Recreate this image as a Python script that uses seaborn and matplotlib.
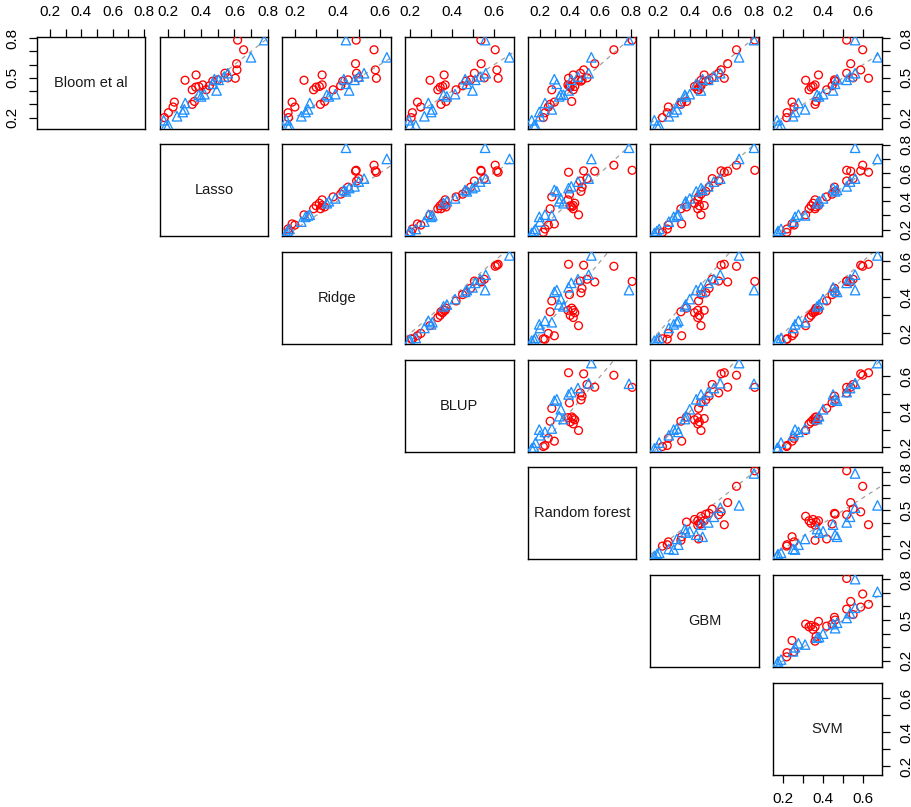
import numpy as np
import pandas as pd
import seaborn as sns
import matplotlib.pyplot as plt

sns.set_style("white")
plt.rcParams["font.family"] = ["Liberation Sans", "DejaVu Sans"]

methods = ["Bloom et al", "Lasso", "Ridge", "BLUP", "Random forest", "GBM", "SVM"]

# accuracy of each method, red group (circles)
bloom_red = [.785, .712, .607, .560, .497, .522, .482, .410, .430, .435, .447, .410, .475, .440, .485, .535, .500, .322, .300, .317, .280, .237, .200]
lasso_red = [.619, .655, .613, .615, .605, .370, .304, .347, .368, .386, .410, .431, .470, .450, .500, .543, .560, .360, .347, .240, .232, .204, .180]
ridge_red = [.488, .572, .485, .578, .583, .328, .243, .288, .300, .315, .328, .380, .425, .415, .450, .490, .500, .340, .320, .187, .200, .168, .170]
blup_red = [.537, .605, .538, .613, .619, .362, .295, .332, .343, .355, .367, .419, .467, .450, .488, .506, .553, .371, .347, .235, .251, .211, .205]
rf_red = [.810, .689, .562, .489, .389, .420, .455, .420, .400, .430, .385, .278, .471, .395, .478, .467, .511, .410, .267, .295, .255, .233, .222]
gbm_red = [.805, .691, .636, .595, .615, .490, .470, .450, .460, .430, .450, .455, .500, .470, .520, .580, .540, .380, .345, .350, .267, .260, .230]
svm_red = [.518, .598, .538, .588, .627, .377, .313, .330, .340, .350, .360, .418, .460, .445, .457, .518, .550, .365, .360, .245, .255, .220, .218]

# accuracy of each method, blue group (triangles)
bloom_blue = [.785, .655, .535, .510, .485, .405, .455, .490, .377, .360, .372, .310, .262, .242, .210, .180, .142, .142]
lasso_blue = [.778, .699, .560, .539, .505, .493, .470, .480, .420, .400, .386, .305, .300, .290, .256, .176, .190, .204]
ridge_blue = [.440, .632, .525, .500, .480, .455, .440, .430, .390, .360, .350, .270, .262, .250, .230, .160, .165, .175]
blup_blue = [.557, .673, .560, .533, .510, .497, .470, .462, .414, .375, .359, .287, .306, .300, .268, .195, .200, .227]
rf_blue = [.789, .540, .522, .451, .407, .389, .311, .295, .338, .327, .355, .233, .278, .195, .200, .145, .160, .170]
gbm_blue = [.800, .707, .590, .550, .515, .470, .440, .480, .400, .375, .370, .329, .320, .300, .270, .180, .196, .210]
svm_blue = [.560, .672, .560, .535, .518, .450, .460, .470, .400, .380, .370, .277, .310, .260, .250, .170, .175, .190]

red = pd.DataFrame(dict(zip(methods, [bloom_red, lasso_red, ridge_red, blup_red, rf_red, gbm_red, svm_red])))
blue = pd.DataFrame(dict(zip(methods, [bloom_blue, lasso_blue, ridge_blue, blup_blue, rf_blue, gbm_blue, svm_blue])))

# axis ticks and the labels that stay visible on each
ticks = {
    "Bloom et al": [.2, .3, .4, .5, .6, .7, .8],
    "Lasso": [.2, .3, .4, .5, .6, .7, .8],
    "Ridge": [.2, .3, .4, .5, .6],
    "BLUP": [.2, .3, .4, .5, .6],
    "Random forest": [.2, .3, .4, .5, .6, .7, .8],
    "GBM": [.2, .3, .4, .5, .6, .7, .8],
    "SVM": [.2, .3, .4, .5, .6],
}
horiz_labels = {
    "Bloom et al": [.2, .4, .6, .8], "Lasso": [.2, .4, .6, .8], "Ridge": [.2, .4, .6],
    "BLUP": [.2, .4, .6], "Random forest": [.2, .4, .6, .8], "GBM": [.2, .4, .6, .8],
    "SVM": [.2, .4, .6],
}
vert_labels = {
    "Bloom et al": [.2, .5, .8], "Lasso": [.2, .4, .6, .8], "Ridge": [.2, .4, .6],
    "BLUP": [.2, .4, .6], "Random forest": [.2, .5, .8], "GBM": [.2, .5, .8],
    "SVM": [.2, .4, .6],
}

both = pd.concat([red, blue])
lims = {}
for m in methods:
    lo, hi = both[m].min(), both[m].max()
    pad = 0.04 * (hi - lo)
    lims[m] = (lo - pad, hi + pad)


def fmt(vals, shown):
    return [f"{v:.1f}" if any(abs(v - s) < 1e-9 for s in shown) else "" for v in vals]


W, H = 912, 807
fig = plt.figure(figsize=(W / 100, H / 100), dpi=100)
x0, dx, pw = 37.0, 122.67, 108.5
y0, dy, ph = 36.7, 107.67, 92.0
tick_font = 11
n = len(methods)

for i in range(n):
    for j in range(i, n):
        left = (x0 + j * dx) / W
        bottom = 1 - (y0 + i * dy + ph) / H
        ax = fig.add_axes([left, bottom, pw / W, ph / H])
        xm, ym = methods[j], methods[i]
        ax.set_xlim(*lims[xm])
        ax.set_ylim(*lims[ym])
        for s in ax.spines.values():
            s.set_color("black")
            s.set_linewidth(1.0)
        if i == j:
            ax.text(0.5, 0.5, xm, transform=ax.transAxes, ha="center", va="center",
                    fontsize=10.5, color="#1a1a1a")
        else:
            ax.axline((0.3, 0.3), slope=1, color="#a0a0a0", lw=0.9, ls=(0, (3.5, 3.5)), zorder=1)
            sns.scatterplot(x=red[xm], y=red[ym], ax=ax, marker="o", s=32,
                            facecolor="none", edgecolor="#ff0000", linewidth=0.95,
                            legend=False, zorder=3)
            sns.scatterplot(x=blue[xm], y=blue[ym], ax=ax, marker="^", s=46,
                            facecolor="none", edgecolor="#1e90ff", linewidth=0.95,
                            legend=False, zorder=3)
        ax.set_xlabel("")
        ax.set_ylabel("")
        ax.set_xticks([])
        ax.set_yticks([])

        # x axis: top on the first row, bottom on the last one
        if i == 0 or i == n - 1:
            ax.set_xticks(ticks[xm])
            ax.set_xticklabels(fmt(ticks[xm], horiz_labels[xm]))
            if i == 0:
                ax.xaxis.set_ticks_position("top")
                ax.xaxis.set_label_position("top")
            else:
                ax.xaxis.set_ticks_position("bottom")
            ax.tick_params(axis="x", direction="out", length=5.5, width=0.9,
                           pad=7, labelsize=tick_font, colors="black")
        # y axis: left on the first column, right on the last one
        if j == 0 or j == n - 1:
            ax.set_yticks(ticks[ym])
            ax.set_yticklabels(fmt(ticks[ym], vert_labels[ym]), rotation=90, va="center")
            if j == 0:
                ax.yaxis.set_ticks_position("left")
            else:
                ax.yaxis.set_ticks_position("right")
            ax.tick_params(axis="y", direction="out", length=5.5, width=0.9,
                           pad=7, labelsize=tick_font, colors="black")
        ax.set_xlim(*lims[xm])
        ax.set_ylim(*lims[ym])

fig.savefig("out.png", dpi=100, facecolor="white")
